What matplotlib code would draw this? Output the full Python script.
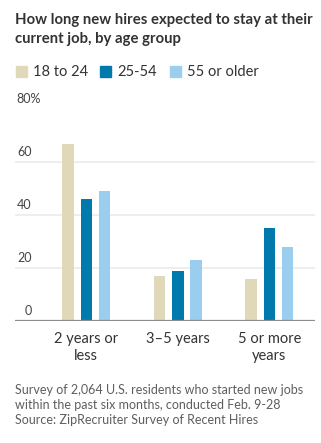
import matplotlib
matplotlib.use('Agg')
import matplotlib.pyplot as plt
import numpy as np

# data
categories = ['2 years or\nless', '3–5 years', '5 or more\nyears']
groups = ['18 to 24', '25-54', '55 or older']
young = [67, 17, 16]
middle = [46, 19, 35]
older = [49, 23, 28]
colors = ['#dfd9ba', '#0079ad', '#9bcdef']
yticks = [0, 20, 40, 60, 80]

plt.rcParams['font.family'] = ['Lato', 'DejaVu Sans']
W, H = 321, 443
fig = plt.figure(figsize=(W / 100, H / 100), dpi=100)
fig.patch.set_facecolor('white')

ax = fig.add_axes([15 / W, (H - 321) / H, 300 / W, (321 - 109.5) / H])
x = np.arange(len(categories))
bw = 0.125
off = 0.2
for i, (vals, col) in enumerate(zip([young, middle, older], colors)):
    ax.bar(x + (i - 1) * off, vals, bw, color=col, zorder=3)

ax.set_xlim(-0.78, 2.5)
ax.set_ylim(0, 80)
for s in ax.spines.values():
    s.set_visible(False)
for t in yticks[1:]:
    ax.axhline(t, color='#ebebeb', lw=1.2, zorder=1)
ax.axhline(0, color='#8c8c8c', lw=1.6, zorder=4)
ax.set_yticks([])
for t in yticks:
    if t == 80:
        ax.text(-0.767, t + 1.6, f'{t}%', ha='left', va='bottom', fontsize=9, color='#444')
    else:
        ax.text(-0.60, t + 1.6, str(t), ha='right', va='bottom', fontsize=9, color='#444')
ax.set_xticks(x)
ax.set_xticklabels(categories, fontsize=10.5, color='#333', linespacing=1.25)
ax.tick_params(axis='x', length=0, pad=8)

fig.text(15 / W, 1 - 13 / H, 'How long new hires expected to stay at their\ncurrent job, by age group',
         ha='left', va='top', fontsize=10.7, fontweight='bold', color='#333', linespacing=1.5)

# legend row
lx = [16, 100, 170]
for px, g, col in zip(lx, groups, colors):
    fig.patches.append(plt.Rectangle((px / W, 1 - 77 / H), 11 / W, 11 / H, transform=fig.transFigure,
                                     color=col, figure=fig))
    fig.text((px + 17) / W, 1 - 71.5 / H, g, ha='left', va='center', fontsize=10.5, color='#333')

fig.text(15 / W, 1 - 384 / H,
         'Survey of 2,064 U.S. residents who started new jobs\nwithin the past six months, conducted Feb. 9-28\nSource: ZipRecruiter Survey of Recent Hires',
         ha='left', va='top', fontsize=9, color='#5e5e5e', linespacing=1.3)

fig.savefig('out.png', dpi=100)
